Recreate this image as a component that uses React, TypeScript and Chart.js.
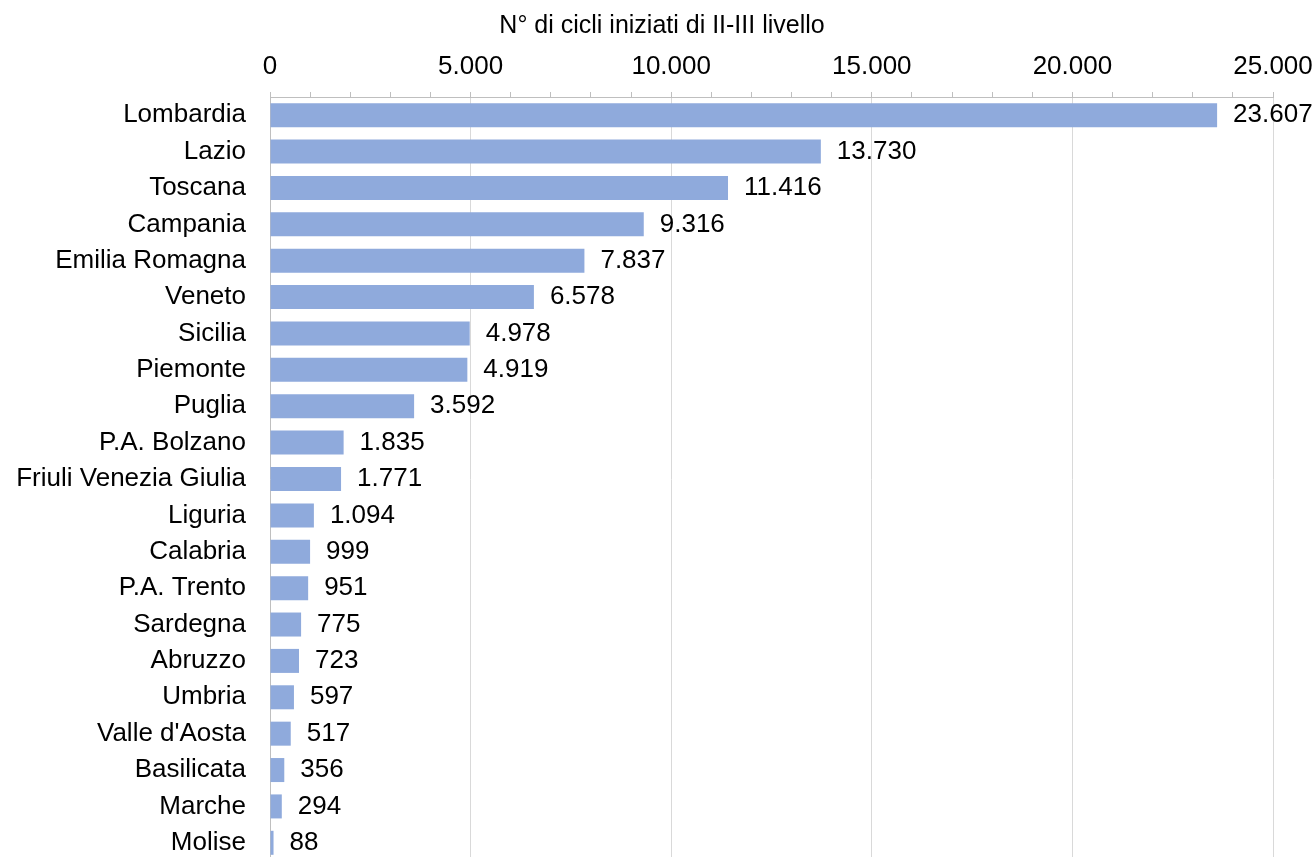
import React, { useEffect, useRef } from "react";
import { Chart, registerables } from "chart.js";

Chart.register(...registerables);

const regions: string[] = [
  "Lombardia", "Lazio", "Toscana", "Campania", "Emilia Romagna", "Veneto", "Sicilia",
  "Piemonte", "Puglia", "P.A. Bolzano", "Friuli Venezia Giulia", "Liguria", "Calabria",
  "P.A. Trento", "Sardegna", "Abruzzo", "Umbria", "Valle d'Aosta", "Basilicata", "Marche", "Molise",
];
const cycles: number[] = [
  23607, 13730, 11416, 9316, 7837, 6578, 4978, 4919, 3592, 1835, 1771, 1094, 999, 951,
  775, 723, 597, 517, 356, 294, 88,
];
const axisTitle = "N° di cicli iniziati di II-III livello";
const axisMin = 0;
const axisMax = 25000;
const majorStep = 5000;
const minorStep = 1000;

const FONT = "'Liberation Sans', Arial, sans-serif";
const FONT_SIZE = 26;
const TITLE_SIZE = 25;

function fmt(v: number): string {
  return String(Math.round(v)).replace(/\B(?=(\d{3})+(?!\d))/g, ".");
}

const labelPlugin = {
  id: "barValueLabels",
  afterDatasetsDraw(chart: any) {
    const ctx = chart.ctx;
    const meta = chart.getDatasetMeta(0);
    ctx.save();
    ctx.font = `${FONT_SIZE}px ${FONT}`;
    ctx.fillStyle = "#000000";
    ctx.textAlign = "left";
    ctx.textBaseline = "middle";
    meta.data.forEach((el: any, i: number) => {
      ctx.fillText(fmt(cycles[i]), el.x + 16, el.y);
    });
    ctx.restore();
  },
};

const titlePlugin = {
  id: "topTitle",
  afterDraw(chart: any) {
    const ctx = chart.ctx;
    ctx.save();
    ctx.font = `${TITLE_SIZE}px ${FONT}`;
    ctx.fillStyle = "#000000";
    ctx.textAlign = "center";
    ctx.textBaseline = "middle";
    ctx.fillText(axisTitle, 662, 26);
    ctx.restore();
  },
};

export default function App() {
  const ref = useRef<HTMLCanvasElement | null>(null);
  useEffect(() => {
    if (!ref.current) return;
    const chart = new Chart(ref.current, {
      type: "bar",
      data: {
        labels: regions,
        datasets: [
          {
            data: cycles,
            backgroundColor: "#8FAADC",
            borderWidth: 0,
            categoryPercentage: 1,
            barPercentage: 0.66,
          },
        ],
      },
      options: {
        indexAxis: "y",
        responsive: true,
        maintainAspectRatio: false,
        animation: false,
        layout: { padding: { left: 0, right: 43, top: 41, bottom: 0 } },
        plugins: {
          legend: { display: false },
          tooltip: { enabled: false },
          title: { display: false },
        },
        scales: {
          x: {
            type: "linear",
            position: "top",
            min: axisMin,
            max: axisMax,
            afterFit: (scale: any) => {
              scale.height = 56;
              scale.paddingLeft = 0;
              scale.paddingRight = 0;
            },
            ticks: {
              stepSize: minorStep,
              autoSkip: false,
              maxRotation: 0,
              minRotation: 0,
              padding: 10,
              color: "#000000",
              font: { family: FONT, size: FONT_SIZE },
              callback: (v: any) => (Number(v) % majorStep === 0 ? fmt(Number(v)) : ""),
            },
            grid: {
              drawTicks: true,
              tickLength: 5,
              color: (c: any) =>
                c.tick && c.tick.value === 0
                  ? "#BFBFBF"
                  : c.tick && c.tick.value % majorStep === 0
                  ? "#D9D9D9"
                  : "rgba(0,0,0,0)",
              tickColor: "#BFBFBF",
              lineWidth: 1,
            },
            border: { display: true, color: "#BFBFBF" },
          },
          y: {
            type: "category",
            afterFit: (scale: any) => {
              scale.width = 270;
              scale.paddingTop = 0;
              scale.paddingBottom = 0;
            },
            ticks: {
              autoSkip: false,
              padding: 24,
              color: "#000000",
              font: { family: FONT, size: FONT_SIZE },
            },
            grid: { display: false, drawTicks: false },
            border: { display: false },
          },
        },
      },
      plugins: [labelPlugin, titlePlugin],
    } as any);
    return () => chart.destroy();
  }, []);

  return (
    <div
      style={{
        position: "fixed",
        left: 0,
        top: 0,
        width: 1316,
        height: 857,
        overflow: "hidden",
        background: "#ffffff",
      }}
    >
      <div style={{ position: "relative", width: 1316, height: 861 }}>
        <canvas ref={ref} />
      </div>
    </div>
  );
}
